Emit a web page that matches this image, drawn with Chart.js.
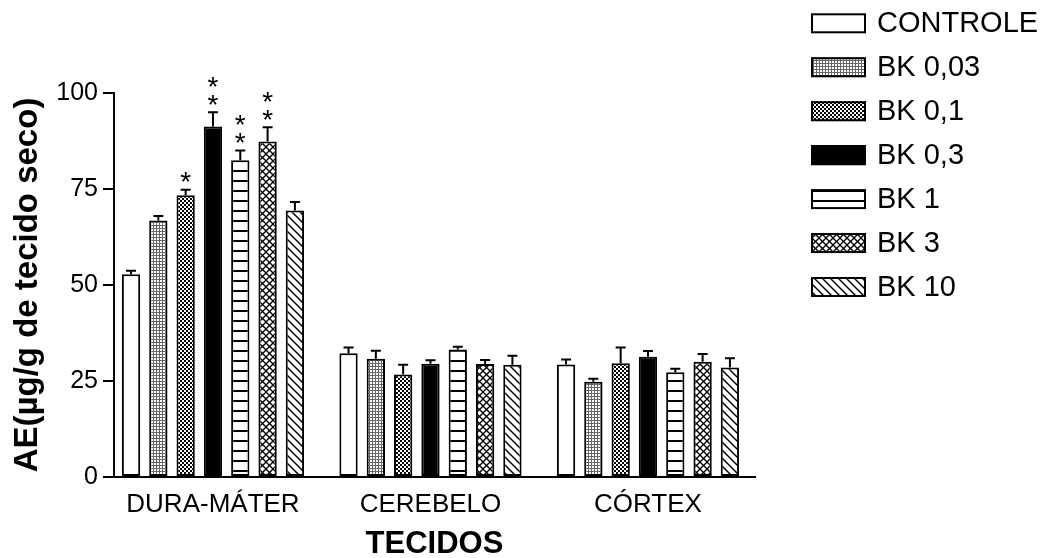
<!DOCTYPE html>
<html>
<head>
<meta charset="utf-8">
<script src="https://cdn.jsdelivr.net/npm/chart.js@4/dist/chart.umd.min.js"></script>
<style>
html,body{margin:0;padding:0;background:#fff;}
#wrap{width:1045px;height:558px;position:relative;}
</style>
</head>
<body>
<div id="wrap"><canvas id="c" width="1045" height="558"></canvas></div>
<script>
// ---- data ----
const categories = ['DURA-MÁTER', 'CEREBELO', 'CÓRTEX'];
const seriesNames = ['CONTROLE', 'BK 0,03', 'BK 0,1', 'BK 0,3', 'BK 1', 'BK 3', 'BK 10'];
const controle = [52.8, 32.2, 29.3];
const bk003    = [66.8, 30.8, 24.8];
const bk01     = [73.4, 26.7, 29.6];
const bk03     = [91.3, 29.5, 31.3];
const bk1      = [82.5, 33.2, 27.3];
const bk3      = [87.4, 29.4, 30.0];
const bk10     = [69.4, 29.2, 28.5];
const errControle = [0.9, 1.5, 1.3];
const errBk003    = [1.2, 2.1, 0.8];
const errBk01     = [1.4, 2.5, 4.1];
const errBk03     = [3.7, 0.9, 1.5];
const errBk1      = [2.5, 0.7, 0.9];
const errBk3      = [3.7, 1.1, 2.0];
const errBk10     = [2.2, 2.4, 2.4];
const starsControle = [0, 0, 0];
const starsBk003    = [0, 0, 0];
const starsBk01     = [1, 0, 0];
const starsBk03     = [2, 0, 0];
const starsBk1      = [2, 0, 0];
const starsBk3      = [2, 0, 0];
const starsBk10     = [0, 0, 0];
const yTicks = [0, 25, 50, 75, 100];
const yTitle = 'AE(µg/g de tecido seco)';
const xTitle = 'TECIDOS';

const values = [controle, bk003, bk01, bk03, bk1, bk3, bk10];
const errors = [errControle, errBk003, errBk01, errBk03, errBk1, errBk3, errBk10];
const stars = [starsControle, starsBk003, starsBk01, starsBk03, starsBk1, starsBk3, starsBk10];

// ---- patterns ----
function makePattern(w, h, draw) {
  const c = document.createElement('canvas');
  c.width = w; c.height = h;
  const x = c.getContext('2d');
  x.fillStyle = '#fff'; x.fillRect(0, 0, w, h);
  draw(x, w, h);
  return x.createPattern(c, 'repeat');
}
function diagLines(x, w, h, dir, lw) {
  x.strokeStyle = '#000'; x.lineWidth = lw;
  for (const o of [-w, 0, w]) {
    x.beginPath();
    if (dir > 0) { x.moveTo(o - 1, -1); x.lineTo(o + w + 1, h + 1); }
    else { x.moveTo(o + w + 1, -1); x.lineTo(o - 1, h + 1); }
    x.stroke();
  }
}
const fills = [
  '#ffffff',
  makePattern(3, 3, (x) => { x.fillStyle = '#666'; x.fillRect(0, 0, 3, 1); x.fillRect(0, 0, 1, 3); }),
  makePattern(4, 4, (x) => { x.fillStyle = '#000'; x.fillRect(0, 0, 2, 2); x.fillRect(2, 2, 2, 2); }),
  '#000000',
  makePattern(4, 10, (x) => { x.fillStyle = '#000'; x.fillRect(0, 0, 4, 2); }),
  makePattern(7, 7, (x, w, h) => { diagLines(x, w, h, 1, 1.3); diagLines(x, w, h, -1, 1.3); }),
  makePattern(8, 8, (x, w, h) => { diagLines(x, w, h, 1, 1.5); })
];

const datasets = seriesNames.map((name, s) => ({
  label: name,
  data: values[s].map((v, i) => ({ x: i, y: v })),
  backgroundColor: fills[s],
  borderColor: '#000',
  borderWidth: 2,
  borderSkipped: false,
  categoryPercentage: 0.879,
  barPercentage: 0.67
}));

const extrasPlugin = {
  id: 'extras',
  afterDatasetsDraw(chart) {
    const ctx = chart.ctx;
    const ys = chart.scales.y;
    ctx.save();
    ctx.strokeStyle = '#000';
    ctx.fillStyle = '#000';
    ctx.lineWidth = 2;
    chart.data.datasets.forEach((ds, s) => {
      const meta = chart.getDatasetMeta(s);
      meta.data.forEach((el, i) => {
        const v = values[s][i], e = errors[s][i];
        const yTop = ys.getPixelForValue(v + e);
        ctx.beginPath();
        ctx.moveTo(el.x, el.y);
        ctx.lineTo(el.x, yTop);
        ctx.moveTo(el.x - 5, yTop);
        ctx.lineTo(el.x + 5, yTop);
        ctx.stroke();
        const n = stars[s][i];
        if (n > 0) {
          ctx.font = '28px "Liberation Sans", Arial, sans-serif';
          ctx.textAlign = 'center';
          ctx.textBaseline = 'alphabetic';
          const m = ctx.measureText('*');
          const asc = m.actualBoundingBoxAscent, desc = m.actualBoundingBoxDescent;
          for (let k = 0; k < n; k++) {
            const cy = yTop - 12.5 - k * 18;
            ctx.fillText('*', el.x, cy + (asc - desc) / 2);
          }
        }
      });
    });
    ctx.restore();
  },
  afterDraw(chart) {
    const ctx = chart.ctx;
    ctx.save();
    seriesNames.forEach((name, s) => {
      const cy = 23.3 + s * 43.95;
      ctx.fillStyle = fills[s];
      ctx.fillRect(811, cy - 10, 55, 20);
      ctx.strokeStyle = '#000';
      ctx.lineWidth = 2;
      ctx.strokeRect(812, cy - 9, 53, 18);
      ctx.fillStyle = '#000';
      ctx.font = '29px "Liberation Sans", Arial, sans-serif';
      ctx.textAlign = 'left';
      ctx.textBaseline = 'middle';
      ctx.fillText(name, 877, cy + 1);
    });
    ctx.restore();
  }
};

new Chart(document.getElementById('c'), {
  type: 'bar',
  data: { datasets },
  options: {
    responsive: false,
    animation: false,
    events: [],
    layout: { padding: { left: 0, right: 290, top: 93, bottom: 0 } },
    plugins: { legend: { display: false }, tooltip: { enabled: false } },
    scales: {
      x: {
        type: 'linear',
        offset: false,
        min: -0.455,
        max: 2.492,
        afterFit: (s) => { s.height = 81; },
        afterBuildTicks: (s) => { s.ticks = categories.map((c, i) => ({ value: i })); },
        ticks: {
          callback: (v) => categories[v] !== undefined ? categories[v] : '',
          color: '#000',
          font: { family: '"Liberation Sans", Arial, sans-serif', size: 26 },
          padding: 12,
          maxRotation: 0,
          autoSkip: false
        },
        grid: { display: false, drawTicks: false, offset: false },
        border: { display: true, color: '#000', width: 2 },
        title: {
          display: true,
          text: xTitle,
          color: '#000',
          font: { family: '"Liberation Sans", Arial, sans-serif', size: 31, weight: 'bold', lineHeight: 0.85 },
          padding: { top: 0, bottom: 0 }
        }
      },
      y: {
        min: 0,
        max: 100,
        afterFit: (s) => { s.width = 114; },
        afterBuildTicks: (s) => { s.ticks = yTicks.map(v => ({ value: v })); },
        ticks: {
          color: '#000',
          font: { family: '"Liberation Sans", Arial, sans-serif', size: 25 },
          padding: 5
        },
        grid: { drawOnChartArea: false, drawTicks: true, tickLength: 11, color: '#000', lineWidth: 2 },
        border: { display: true, color: '#000', width: 2 },
        title: {
          display: true,
          text: yTitle,
          color: '#000',
          font: { family: '"Liberation Sans", Arial, sans-serif', size: 33, weight: 'bold', lineHeight: 1.2 },
          padding: { top: 8, bottom: 0 }
        }
      }
    }
  },
  plugins: [extrasPlugin]
});
</script>
</body>
</html>
